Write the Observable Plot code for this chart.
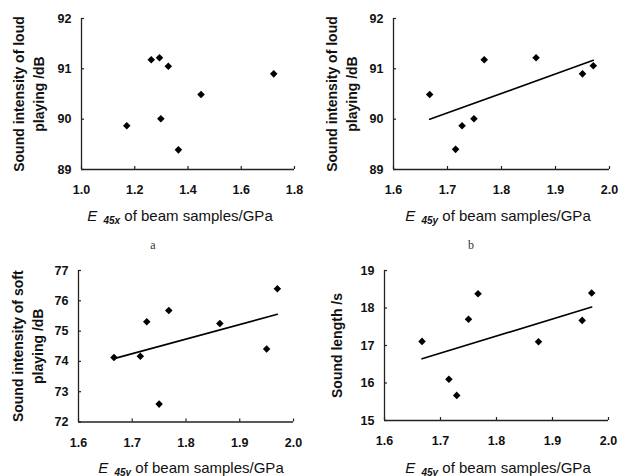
<!DOCTYPE html>
<html><head><meta charset="utf-8">
<script src="https://cdn.jsdelivr.net/npm/d3@7"></script>
<script src="https://cdn.jsdelivr.net/npm/@observablehq/plot@0.6"></script>
<style>
body{margin:0;background:#fff;}
#page{position:relative;width:626px;height:476px;font-family:"Liberation Sans",Arial,sans-serif;color:#111;overflow:hidden;}
.panel{position:absolute;}
.xt{position:absolute;font-size:15px;white-space:nowrap;transform:translate(-50%,-50%);color:#111;}
.xt i.sub{font-size:10px;font-weight:bold;position:relative;top:3px;margin-left:2px;}
.cap{position:absolute;font-family:"Liberation Serif","Times New Roman",serif;font-size:12px;transform:translate(-50%,-50%);color:#333;}
</style></head><body><div id="page"></div>
<script>
// Panel a: E45x vs loud-playing sound intensity
const e45xA = [1.170, 1.262, 1.293, 1.326, 1.298, 1.364, 1.449, 1.722];
const loudA = [89.87, 91.18, 91.22, 91.05, 90.01, 89.39, 90.49, 90.90];
// Panel b: E45y vs loud-playing sound intensity
const e45yB = [1.667, 1.715, 1.727, 1.749, 1.768, 1.864, 1.950, 1.970];
const loudB = [90.49, 89.40, 89.87, 90.01, 91.18, 91.22, 90.90, 91.06];
// Panel c: E45y vs soft-playing sound intensity
const e45yC = [1.666, 1.715, 1.727, 1.750, 1.768, 1.863, 1.950, 1.970];
const softC = [74.13, 74.17, 75.31, 72.59, 75.68, 75.25, 74.41, 76.40];
// Panel d: E45y vs sound length
const e45yD = [1.667, 1.715, 1.729, 1.750, 1.767, 1.875, 1.953, 1.970];
const lengthD = [17.11, 16.10, 15.67, 17.70, 18.38, 17.10, 17.67, 18.40];

const ticksXA = [1.0, 1.2, 1.4, 1.6, 1.8];
const ticksXY = [1.6, 1.7, 1.8, 1.9, 2.0];
const ticksLoud = [89, 90, 91, 92];
const ticksSoft = [72, 73, 74, 75, 76, 77];
const ticksLength = [15, 16, 17, 18, 19];

const yLabelA = "Sound intensity of loud\nplaying /dB";
const yLabelC = "Sound intensity of soft\nplaying /dB";
const yLabelD = "Sound length /s";
const xSubA = "45x", xSubY = "45y";
const xTitleRest = " of beam samples/GPa";
const captions = ["a", "b"];

const page = document.getElementById("page");
const fmt1 = d3.format(".1f");
const fmt0 = d3.format("d");

function panel(o) {
  const data = o.xs.map((x, i) => ({x, y: o.ys[i]}));
  const innerW = o.width - o.ml - o.mr;
  const innerH = o.height - o.mt - o.mb;
  const marks = [
    Plot.ruleX([o.xTicks[0]], {stroke: "#222", strokeWidth: 1.3}),
    Plot.ruleY([o.yTicks[0]], {stroke: "#222", strokeWidth: 1.3}),
    Plot.tickX(o.xTicks, {x: d => d, insetTop: innerH - 3, stroke: "#222", strokeWidth: 1.2}),
    Plot.tickY(o.yTicks, {y: d => d, insetRight: innerW - 3, stroke: "#222", strokeWidth: 1.2}),
    Plot.axisX(o.xTicks, {tickSize: 0, tickPadding: 16, tickFormat: fmt1, label: null, fontWeight: "bold", fontSize: 12.5, fill: "#111"}),
    Plot.axisY(o.yTicks, {tickSize: 0, tickPadding: 10, tickFormat: fmt0, label: null, fontWeight: "bold", fontSize: 12.5, fill: "#111"}),
    Plot.text([o.ylabel], {text: d => d, frameAnchor: "left", textAnchor: "middle", lineAnchor: "middle", dx: o.ylabelDx, rotate: -90, fontWeight: "bold", fontSize: 14, lineHeight: 1.43, fill: "#111"})
  ];
  if (o.fit) marks.push(Plot.linearRegressionY(data, {x: "x", y: "y", ci: 0, stroke: "#000", strokeWidth: 1.6}));
  marks.push(Plot.dot(data, {x: "x", y: "y", symbol: "diamond2", r: 3.4, fill: "#000", stroke: "none"}));
  const svg = Plot.plot({
    width: o.width, height: o.height,
    marginTop: o.mt, marginRight: o.mr, marginBottom: o.mb, marginLeft: o.ml,
    x: {domain: [o.xTicks[0], o.xTicks[o.xTicks.length - 1]]},
    y: {domain: [o.yTicks[0], o.yTicks[o.yTicks.length - 1]]},
    style: {fontFamily: "'Liberation Sans', Arial, sans-serif", fontSize: "12px", color: "#111", background: "white", overflow: "visible"},
    marks
  });
  const div = document.createElement("div");
  div.className = "panel";
  div.style.left = o.left + "px";
  div.style.top = o.top + "px";
  div.appendChild(svg);
  page.appendChild(div);

  const t = document.createElement("div");
  t.className = "xt";
  t.style.left = o.tx + "px";
  t.style.top = o.ty + "px";
  t.innerHTML = `<i>E</i> <i class="sub">${o.sub}</i>${o.rest}`;
  page.appendChild(t);
}

panel({xs: e45xA, ys: loudA, xTicks: ticksXA, yTicks: ticksLoud, ylabel: yLabelA, ylabelDx: -54, fit: false,
  left: 0, top: 0, width: 313, height: 200, mt: 18, mr: 19, mb: 31, ml: 81, tx: 180, ty: 215, sub: xSubA, rest: xTitleRest});
panel({xs: e45yB, ys: loudB, xTicks: ticksXY, yTicks: ticksLoud, ylabel: yLabelA, ylabelDx: -53, fit: true,
  left: 313, top: 0, width: 313, height: 200, mt: 18, mr: 17, mb: 31, ml: 80, tx: 498, ty: 215, sub: xSubY, rest: xTitleRest});
panel({xs: e45yC, ys: softC, xTicks: ticksXY, yTicks: ticksSoft, ylabel: yLabelC, ylabelDx: -52, fit: true,
  left: 0, top: 250, width: 313, height: 200, mt: 20, mr: 20, mb: 28.5, ml: 78, tx: 191, ty: 467, sub: xSubY, rest: xTitleRest});
panel({xs: e45yD, ys: lengthD, xTicks: ticksXY, yTicks: ticksLength, ylabel: yLabelD, ylabelDx: -49, fit: true,
  left: 313, top: 250, width: 313, height: 200, mt: 20, mr: 18, mb: 30, ml: 71, tx: 498, ty: 467, sub: xSubY, rest: xTitleRest});

const capPos = [[153, 245], [471, 245]];
captions.forEach((c, i) => {
  const d = document.createElement("div");
  d.className = "cap";
  d.style.left = capPos[i][0] + "px";
  d.style.top = capPos[i][1] + "px";
  d.textContent = c;
  page.appendChild(d);
});
</script>
</body></html>
